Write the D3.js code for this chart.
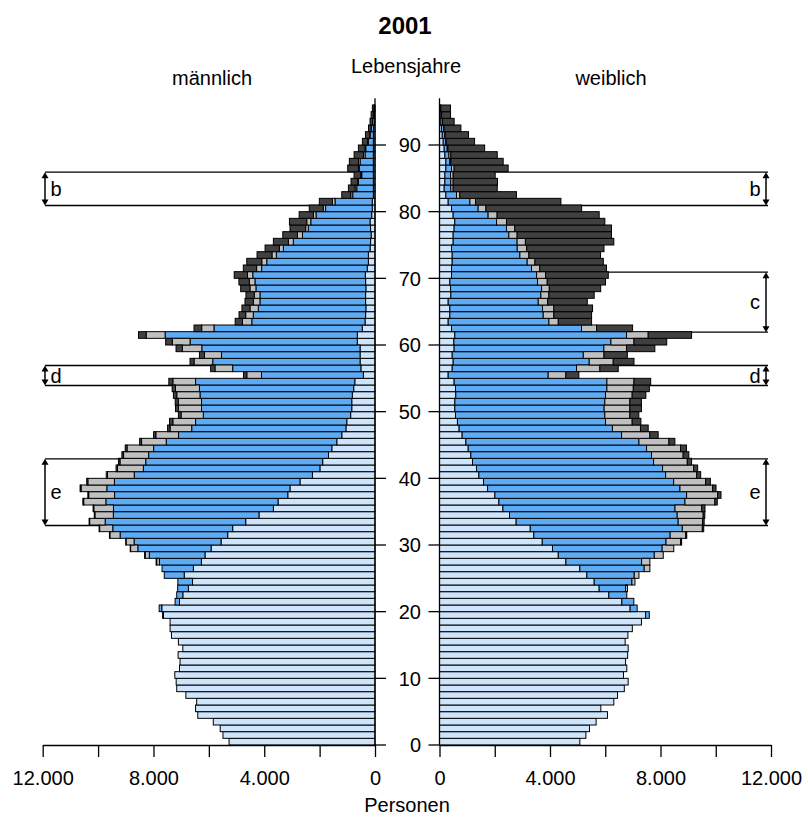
<!DOCTYPE html>
<html>
<head>
<meta charset="utf-8">
<script src="https://cdn.jsdelivr.net/npm/d3@7"></script>
<style>
  body { margin: 0; background: #fff; }
  svg { display: block; font-family: "Liberation Sans", Arial, sans-serif; }
</style>
</head>
<body>
<svg width="808" height="819"></svg>
<script>
// Bevölkerung nach Familienstand, 2001 (Personen je Altersjahr 0-95)
const ages = d3.range(0, 96);
const keys = ["ledig", "verheiratet", "geschieden", "verwitwet"];
const colors = ["#cde4fb", "#5eabf5", "#c0c0c0", "#404040"];

const menLedig = [
  5270,5490,5590,5840,6400,6480,6440,6830,7160,7180,
  7230,7060,7040,7110,6940,7100,7350,7400,7400,7640,
  7700,7060,6940,6740,6590,6890,6560,6270,6140,5920,
  5560,5320,5140,4670,4190,3670,3500,3150,3070,2710,
  2260,1990,1890,1680,1560,1380,1200,1050,1020,880,
  840,840,820,770,730,420,510,540,540,540,
  640,640,460,360,340,330,340,340,330,340,
  350,280,240,240,180,160,140,160,180,120,
  100,100,60,60,60,60,60,60,60,60,
  60,60,50,30,20,10];
const menVerh = [
  0,0,0,0,0,0,0,0,0,0,
  0,0,0,0,0,0,0,0,0,30,
  95,160,220,385,530,720,1130,1515,2010,2645,
  3140,3885,4330,5075,5260,5775,6220,6255,6615,6700,
  6435,6375,6390,6495,6435,6160,5895,5570,5460,5320,
  5425,5425,5500,5570,5750,3680,4630,5320,5005,5715,
  6040,6940,5355,4090,4055,3885,3815,3815,3970,3995,
  4065,3815,3670,3325,3130,2790,2480,2250,2140,2010,
  1685,1345,745,600,540,420,505,480,300,275,
  180,120,85,60,40,30];
const menGesch = [
  0,0,0,0,0,0,0,0,0,0,
  0,0,0,0,0,0,0,0,0,0,
  0,0,0,0,0,0,0,100,150,260,
  290,370,475,560,665,710,800,935,930,960,
  965,935,930,905,960,890,820,780,820,805,
  830,840,840,865,820,530,640,675,615,700,
  640,685,445,335,275,300,240,205,215,205,
  190,180,180,155,145,180,180,95,145,95,
  85,95,70,60,25,35,35,60,60,25,
  25,10,5,0,0,0];
const menVerw = [
  0,0,0,0,0,0,0,0,0,0,
  0,0,0,0,0,0,0,0,0,0,
  0,0,0,0,0,0,0,20,20,15,
  10,15,18,20,22,25,30,30,35,40,
  45,50,55,60,65,70,80,90,120,95,
  110,110,120,120,145,120,155,145,180,230,
  240,275,275,265,240,290,300,300,335,375,
  480,480,540,540,515,540,530,565,625,515,
  505,470,325,240,240,240,385,325,335,240,
  190,155,95,90,80,56];

const frauLedig = [
  5080,5300,5430,5670,6080,5840,6310,6445,6690,6830,
  6660,6780,6735,6810,6830,6720,6820,6980,7310,7460,
  6900,6600,6130,5780,5600,5335,5080,4575,4300,4090,
  3720,3415,3285,2775,2535,2295,2150,2005,1740,1595,
  1425,1340,1195,1135,1040,955,820,710,650,580,
  555,555,590,580,530,315,460,495,460,530,
  520,555,435,315,375,375,315,410,400,375,
  435,435,460,460,435,495,495,530,555,495,
  435,315,230,170,195,195,230,230,195,170,
  135,100,70,50,50,35];
const frauVerh = [
  0,0,0,0,0,0,0,0,0,0,
  0,0,0,0,0,0,0,0,0,135,
  255,435,650,955,1365,1715,2330,2740,3475,3970,
  4480,4935,5505,5865,6070,6230,6735,6940,6965,6880,
  6760,6735,6555,6540,6455,6265,5770,5550,5360,5405,
  5405,5430,5420,5480,5530,3620,4500,4925,4745,5420,
  5685,6215,4705,3645,3380,3355,3260,3260,3295,3175,
  3080,2895,2715,2450,2380,2315,2015,1895,1510,1265,
  965,785,385,240,215,205,205,145,145,110,
  95,95,85,60,25,12];
const frauGesch = [
  0,0,0,0,0,0,0,0,0,0,
  0,0,0,0,0,0,0,0,0,0,
  0,0,0,70,110,170,205,300,325,420,
  530,565,725,880,940,965,1085,1125,1185,1160,
  1125,1125,1220,1145,1230,1085,1025,1015,965,905,
  930,905,965,955,980,640,845,870,750,820,
  835,785,545,340,385,410,340,290,280,350,
  325,300,280,325,340,300,300,300,360,325,
  280,205,120,85,85,95,95,35,70,25,
  15,10,5,0,0,0];
const frauVerw = [
  0,0,0,0,0,0,0,0,0,0,
  0,0,0,0,0,0,0,0,0,0,
  0,0,0,0,0,0,0,0,0,0,
  35,35,50,60,60,120,85,120,120,170,
  145,145,155,205,215,215,300,280,315,325,
  420,420,495,580,605,470,665,750,845,1025,
  1185,1570,1305,1205,1365,1400,1435,1640,1860,2110,
  2270,2415,2475,2595,2800,3200,3415,3500,3560,3695,
  3465,3090,2050,1595,1605,1520,1955,1895,1680,1330,
  1025,845,615,420,325,350];

const ageTicks = [0, 10, 20, 30, 40, 50, 60, 70, 80, 90];
const personTicks = [0, 2000, 4000, 6000, 8000, 10000, 12000];
const personLabels = [0, 4000, 8000, 12000];

// markierte Altersgruppen
const bracketsMen = [
  { label: "b", from: 81, to: 86 },
  { label: "d", from: 54, to: 57 },
  { label: "e", from: 33, to: 43 }
];
const bracketsWomen = [
  { label: "b", from: 81, to: 86 },
  { label: "c", from: 62, to: 71 },
  { label: "d", from: 54, to: 57 },
  { label: "e", from: 33, to: 43 }
];

const svg = d3.select("svg");
const de = d3.formatLocale({ decimal: ",", thousands: ".", grouping: [3], currency: ["", " €"] });
const fmt = de.format(",d");

const y = d3.scaleLinear().domain([0, 90]).range([745, 145]);
const xMen = d3.scaleLinear().domain([0, 12000]).range([375, 42.7]);
const xWomen = d3.scaleLinear().domain([0, 12000]).range([439.5, 771]);
const color = d3.scaleOrdinal().domain(keys).range(colors);

function buildRows(l, v, g, w) {
  return ages.map((a, i) => ({ age: a, ledig: l[i], verheiratet: v[i], geschieden: g[i], verwitwet: w[i] }));
}
const stack = d3.stack().keys(keys);
const menSeries = stack(buildRows(menLedig, menVerh, menGesch, menVerw));
const womenSeries = stack(buildRows(frauLedig, frauVerh, frauGesch, frauVerw));

//////////// BRACKETS (behind bars) ////////////

function drawBrackets(list, x, x0, xEnd, labelX) {
  const g = svg.append("g").attr("class", "brackets");
  list.forEach(b => {
    [b.from, b.to].forEach(a => {
      g.append("line")
        .attr("x1", x(0)).attr("x2", xEnd)
        .attr("y1", y(a) + 0.5).attr("y2", y(a) + 0.5)
        .attr("stroke", "black").attr("stroke-width", 1.3);
    });
    const y1 = y(b.to) + 0.5, y2 = y(b.from) + 0.5;
    g.append("line")
      .attr("x1", x0).attr("x2", x0)
      .attr("y1", y1 + 3).attr("y2", y2 - 3)
      .attr("stroke", "black").attr("stroke-width", 1.5);
    g.append("path")
      .attr("d", `M${x0},${y1}l-3.5,6h7z M${x0},${y2}l-3.5,-6h7z`)
      .attr("fill", "black");
    g.append("text")
      .attr("x", labelX).attr("y", (y1 + y2) / 2)
      .attr("dy", "0.35em")
      .attr("text-anchor", "middle")
      .attr("font-size", 20)
      .text(b.label);
  });
}
drawBrackets(bracketsMen, xMen, 45, 45, 56);
drawBrackets(bracketsWomen, xWomen, 766, 768, 755);

//////////// BARS ////////////

function drawPyramid(series, x, cls) {
  svg.append("g").attr("class", cls)
    .selectAll("g")
    .data(series)
    .enter().append("g")
    .attr("fill", d => color(d.key))
    .selectAll("rect")
    .data(d => d.filter(s => s[1] - s[0] > 0))
    .enter().append("rect")
    .attr("x", s => Math.min(x(s[0]), x(s[1])))
    .attr("width", s => Math.abs(x(s[1]) - x(s[0])))
    .attr("y", s => y(s.data.age + 1))
    .attr("height", s => y(s.data.age) - y(s.data.age + 1))
    .attr("stroke", "black")
    .attr("stroke-width", 1);
}
drawPyramid(menSeries, xMen, "men");
drawPyramid(womenSeries, xWomen, "women");

//////////// AXES ////////////

function personAxis(x) {
  const g = svg.append("g")
    .attr("transform", "translate(0,745)")
    .call(d3.axisBottom(x)
      .tickValues(personTicks)
      .tickFormat(d => personLabels.includes(d) ? fmt(d) : "")
      .tickSize(12)
      .tickSizeOuter(0)
      .tickPadding(14));
  g.select(".domain").attr("stroke-width", 1.3);
  g.selectAll(".tick line").attr("stroke-width", 1.3);
  g.selectAll("text").attr("font-size", 20).attr("font-family", "Liberation Sans, Arial, sans-serif");
}
personAxis(xMen);
personAxis(xWomen);

// Altersachsen
const ageAxis = svg.append("g").attr("class", "age-axis");
[xMen(0), xWomen(0)].forEach(xx => {
  ageAxis.append("line")
    .attr("x1", xx).attr("x2", xx)
    .attr("y1", y(0)).attr("y2", y(97))
    .attr("stroke", "black").attr("stroke-width", 1.3);
});
ageAxis.selectAll(".tm").data(ageTicks).enter().append("line")
  .attr("x1", xMen(0)).attr("x2", xMen(0) + 11)
  .attr("y1", d => y(d)).attr("y2", d => y(d))
  .attr("stroke", "black").attr("stroke-width", 1.3);
ageAxis.selectAll(".tw").data(ageTicks).enter().append("line")
  .attr("x1", xWomen(0) - 11).attr("x2", xWomen(0))
  .attr("y1", d => y(d)).attr("y2", d => y(d))
  .attr("stroke", "black").attr("stroke-width", 1.3);
ageAxis.selectAll("text").data(ageTicks).enter().append("text")
  .attr("x", 421)
  .attr("y", d => y(d))
  .attr("dy", "0.36em")
  .attr("text-anchor", "end")
  .attr("font-size", 20)
  .text(d => d);

//////////// TITLES ////////////

svg.append("text").attr("x", 405).attr("y", 34)
  .attr("text-anchor", "middle").attr("font-size", 24).attr("font-weight", "bold")
  .text("2001");
svg.append("text").attr("x", 406).attr("y", 73)
  .attr("text-anchor", "middle").attr("font-size", 20)
  .text("Lebensjahre");
svg.append("text").attr("x", 212).attr("y", 85)
  .attr("text-anchor", "middle").attr("font-size", 20)
  .text("männlich");
svg.append("text").attr("x", 611).attr("y", 85)
  .attr("text-anchor", "middle").attr("font-size", 20)
  .text("weiblich");
svg.append("text").attr("x", 407).attr("y", 812)
  .attr("text-anchor", "middle").attr("font-size", 20)
  .text("Personen");
</script>
</body>
</html>
